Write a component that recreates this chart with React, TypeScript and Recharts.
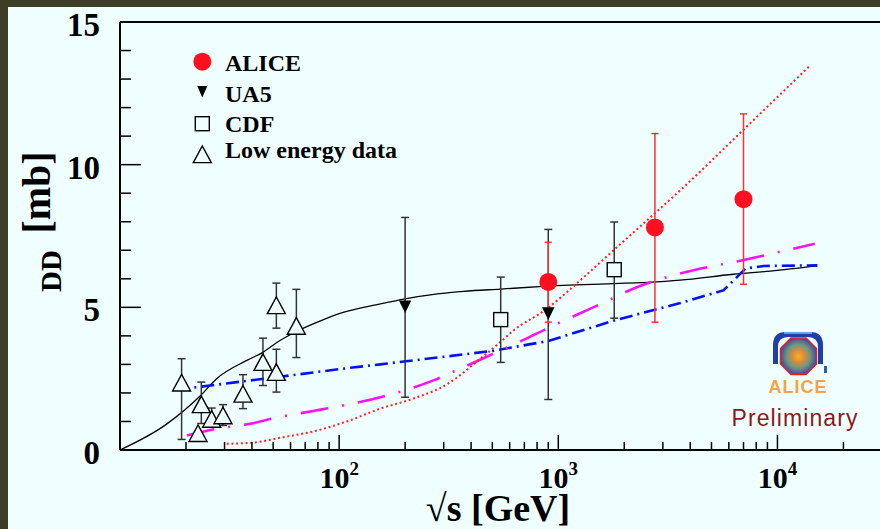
import React from "react";
import { ComposedChart, Line, Scatter, XAxis, YAxis, ErrorBar, ReferenceLine } from "recharts";

const serif = "'Liberation Serif', 'Times New Roman', serif";
const sans = "'Liberation Sans', Arial, sans-serif";
const bg = "#efffff";

// [sqrt(s) GeV, sigma_DD mb, err down, err up]
const aliceData = [
  [900, 5.89, 1.41, 1.39],
  [2760, 7.8, 3.32, 3.29],
  [7000, 8.79, 2.98, 2.99],
];
const ua5Data = [
  [200, 5.02, 3.17, 3.13],
  [900, 4.78, 3.01, 2.95],
];
const cdfData = [
  [546, 4.57, 1.5, 1.49],
  [1800, 6.32, 1.7, 1.67],
];
const lowEnergyData = [
  [19.1, 2.36, 1.99, 0.84],
  [23.5, 1.6, 0.67, 0.78],
  [22.7, 0.59, 0, 0],
  [26.2, 1.09, 0.29, 0.38],
  [29.5, 1.21, 0.35, 0.38],
  [36.4, 1.97, 0.52, 0.67],
  [44.9, 3.08, 0.82, 0.84],
  [51.7, 2.73, 0.7, 0.8],
  [51.7, 5.07, 0.8, 0.78],
  [63.8, 4.35, 1.11, 1.28],
];

// model curves [sqrt(s), sigma]
const blackCurve = [
  [10, 0], [16.2, 0.89], [23.2, 1.89], [27.6, 2.5], [37.9, 3.14], [45.1, 3.43],
  [52.8, 3.8], [61.9, 4.1], [79, 4.47], [100, 4.78], [154, 5.12],
  [200, 5.3], [261, 5.44], [370, 5.56], [543, 5.64], [887, 5.74], [3600, 5.95],
  [6300, 6.16], [9300, 6.27], [15200, 6.45],
];
const blueCurve = [
  [18.1, 2.11], [112, 2.88], [154, 3.0], [498, 3.47], [900, 3.82], [1800, 4.54],
  [3600, 5.15], [5690, 5.6], [7150, 6.36], [8650, 6.45], [15200, 6.47],
];
const magentaCurve = [
  [20.2, 0.51], [27.6, 0.74], [39.3, 0.92], [52.8, 1.15], [75, 1.36], [101, 1.54],
  [154, 1.85], [269, 2.44], [357, 2.85], [498, 3.35], [661, 3.78], [918, 4.31],
  [1216, 4.74], [1667, 5.22], [2207, 5.66], [3135, 6.06], [7530, 6.71], [14800, 7.23],
];
const redCurve = [
  [30.7, 0.22], [39.2, 0.25], [55.7, 0.45], [79, 0.68], [112, 1.04], [154, 1.45],
  [218, 1.8], [310, 2.3], [441, 3.2], [543, 3.78], [625, 4.19], [887, 4.95],
  [1260, 5.95], [1787, 7.0], [2540, 8.05], [3600, 9.1], [7100, 11.27], [13900, 13.43],
];

const xMajor = [100, 1000, 10000];
const xMajorExp = ["2", "3", "4"];
const xTicks = [
  20, 30, 40, 50, 60, 70, 80, 90, 100,
  200, 300, 400, 500, 600, 700, 800, 900, 1000,
  2000, 3000, 4000, 5000, 6000, 7000, 8000, 9000, 10000, 20000,
];
const yTicks = [0, 1, 2, 3, 4, 5, 6, 7, 8, 9, 10, 11, 12, 13, 14, 15];
const yLabels = [0, 5, 10, 15];

const toPoints = (rows: number[][]) =>
  rows.map(([x, y, lo, hi]) => ({ x, y, err: [lo ?? 0, hi ?? 0] }));

const XTick = (props: any) => {
  const { x, y, payload } = props;
  const i = xMajor.indexOf(payload.value);
  const major = i >= 0;
  return (
    <g>
      <line x1={x} x2={x} y1={y} y2={y - (major ? 15 : 8)} stroke="#000" strokeWidth={1.5} />
      {major && (
        <text x={x} y={y + 38} textAnchor="middle" fontFamily={serif} fontWeight="bold" fontSize={30} fill="#000">
          10<tspan dy={-13} fontSize={19}>{xMajorExp[i]}</tspan>
        </text>
      )}
    </g>
  );
};

const YTick = (props: any) => {
  const { x, y, payload } = props;
  const major = yLabels.includes(payload.value);
  return (
    <g>
      <line x1={x} x2={x + (major ? 21 : 11)} y1={y} y2={y} stroke="#000" strokeWidth={1.5} />
      {major && (
        <text x={x - 20} y={y + 14} textAnchor="end" fontFamily={serif} fontWeight="bold" fontSize={33} fill="#000">
          {payload.value}
        </text>
      )}
    </g>
  );
};

const Circle = ({ cx, cy }: any) => <circle cx={cx} cy={cy} r={9} fill="#ff1020" />;
const DownTri = ({ cx, cy }: any) => (
  <path d={`M${cx - 6.2},${cy - 6.3} L${cx + 6.2},${cy - 6.3} L${cx},${cy + 6.3} Z`} fill="#000" />
);
const Square = ({ cx, cy }: any) => (
  <rect x={cx - 7} y={cy - 7} width={14} height={14} fill={bg} stroke="#000" strokeWidth={1.4} />
);
const OpenTri = ({ cx, cy }: any) => (
  <path
    d={`M${cx},${cy - 8.3} L${cx + 9},${cy + 8.3} L${cx - 9},${cy + 8.3} Z`}
    fill={bg}
    stroke="#000"
    strokeWidth={1.4}
    strokeLinejoin="miter"
  />
);

const curve = (rows: number[][]) => rows.map(([x, y]) => ({ x, y }));

export default function App() {
  return (
    <div style={{ position: "absolute", left: 0, top: 0, width: 880, height: 529, overflow: "hidden", background: "#3c3f26" }}>
      <div style={{ position: "absolute", left: 8, top: 7, right: 0, bottom: 0, background: bg }} />
      <div style={{ position: "absolute", left: 0, top: 0 }}>
        <ComposedChart width={900} height={529} margin={{ top: 22, right: 18, bottom: 0, left: 0 }}>
          <XAxis
            dataKey="x"
            type="number"
            scale="log"
            domain={[10, 30000]}
            allowDataOverflow
            ticks={xTicks}
            interval={0}
            height={79}
            tickSize={0}
            tickMargin={0}
            tickLine={false}
            tick={<XTick />}
            axisLine={{ stroke: "#000", strokeWidth: 2 }}
          />
          <YAxis
            type="number"
            domain={[0, 15]}
            allowDataOverflow
            ticks={yTicks}
            interval={0}
            width={120}
            tickSize={0}
            tickMargin={0}
            tickLine={false}
            tick={<YTick />}
            axisLine={{ stroke: "#000", strokeWidth: 2 }}
          />
          <ReferenceLine y={15} stroke="#000" strokeWidth={2} />
          <Line data={curve(blackCurve)} dataKey="y" type="monotone" stroke="#000" strokeWidth={1.3} dot={false} activeDot={false} isAnimationActive={false} />
          <Line data={curve(blueCurve)} dataKey="y" type="linear" stroke="#0010ff" strokeWidth={2.6} strokeDasharray="13 5 2 5" dot={false} activeDot={false} isAnimationActive={false} />
          <Line data={curve(magentaCurve)} dataKey="y" type="monotone" stroke="#ff10ff" strokeWidth={2.6} strokeDasharray="28 14 2 14" dot={false} activeDot={false} isAnimationActive={false} />
          <Line data={curve(redCurve)} dataKey="y" type="monotone" stroke="#ff2020" strokeWidth={2} strokeDasharray="2 2.7" dot={false} activeDot={false} isAnimationActive={false} />
          <Scatter data={toPoints(lowEnergyData)} dataKey="y" shape={<OpenTri />} isAnimationActive={false}>
            <ErrorBar dataKey="err" direction="y" width={4} stroke="#333" strokeWidth={1.5} isAnimationActive={false} />
          </Scatter>
          <Scatter data={toPoints(cdfData)} dataKey="y" shape={<Square />} isAnimationActive={false}>
            <ErrorBar dataKey="err" direction="y" width={4} stroke="#333" strokeWidth={1.5} isAnimationActive={false} />
          </Scatter>
          <Scatter data={toPoints(ua5Data)} dataKey="y" shape={<DownTri />} isAnimationActive={false}>
            <ErrorBar dataKey="err" direction="y" width={4} stroke="#333" strokeWidth={1.5} isAnimationActive={false} />
          </Scatter>
          <Scatter data={toPoints(aliceData)} dataKey="y" shape={<Circle />} isAnimationActive={false}>
            <ErrorBar dataKey="err" direction="y" width={3.5} stroke="#ff3030" strokeWidth={1.5} isAnimationActive={false} />
          </Scatter>
        </ComposedChart>
      </div>
      <svg width={880} height={529} style={{ position: "absolute", left: 0, top: 0, pointerEvents: "none" }}>
        <defs>
          <radialGradient id="aliceCore" cx="50%" cy="50%" r="50%">
            <stop offset="0%" stopColor="#ffb020" />
            <stop offset="35%" stopColor="#d88a40" />
            <stop offset="65%" stopColor="#6a9a80" />
            <stop offset="100%" stopColor="#4a4c96" />
          </radialGradient>
        </defs>
        {/* legend */}
        <g fontFamily={serif} fontWeight="bold" fontSize={24} fill="#000">
          <circle cx={202.3} cy={61.7} r={9} fill="#ff1020" />
          <text x={225} y={70.7}>ALICE</text>
          <path d="M197.3,86 L207.3,86 L202.3,97.5 Z" fill="#000" />
          <text x={225} y={101.7}>UA5</text>
          <rect x={195.3} y={116.7} width={14} height={14} fill="none" stroke="#000" strokeWidth={1.4} />
          <text x={225} y={131.7}>CDF</text>
          <path d="M202.3,146 L211.3,162.6 L193.3,162.6 Z" fill="none" stroke="#000" strokeWidth={1.4} />
          <text x={225} y={158.3}>Low energy data</text>
        </g>
        {/* axis titles */}
        <text transform="translate(50,192.5) rotate(-90)" textAnchor="middle" fontFamily={serif} fontWeight="bold" fontSize={40} fill="#000">[mb]</text>
        <text transform="translate(61,271) rotate(-90)" textAnchor="middle" fontFamily={serif} fontWeight="bold" fontSize={29} fill="#000">DD</text>
        <text x={498} y={521} textAnchor="middle" fontFamily={serif} fontWeight="bold" fontSize={38} fill="#000">√s [GeV]</text>
        {/* ALICE logo */}
        <path d="M773,364 L773,345 Q773,332 786,332 L810,332 Q823,332 823,345 L823,364 L818,364 L818,347 Q818,337 808,337 L788,337 Q778,337 778,347 L778,364 Z" fill="#1d40a8" />
        <path d="M784,333 L812,333" stroke="#6aa0e8" strokeWidth={2} />
        <polygon
          points="791,338 806,338 816.5,348.5 816.5,364 806,374.5 791,374.5 780.5,364 780.5,348.5"
          fill="url(#aliceCore)"
          stroke="#e02030"
          strokeWidth={1.5}
        />
        <rect x={824} y={366} width={3} height={7} fill="#2a5cb0" />
        <text x={798} y={392.5} textAnchor="middle" fontFamily={sans} fontWeight="bold" fontSize={18} letterSpacing={1} fill="#f4a444">ALICE</text>
        <text x={731.5} y={426} fontFamily={sans} fontSize={23} textLength={126} fill="#8b1a1a">Preliminary</text>
      </svg>
    </div>
  );
}
